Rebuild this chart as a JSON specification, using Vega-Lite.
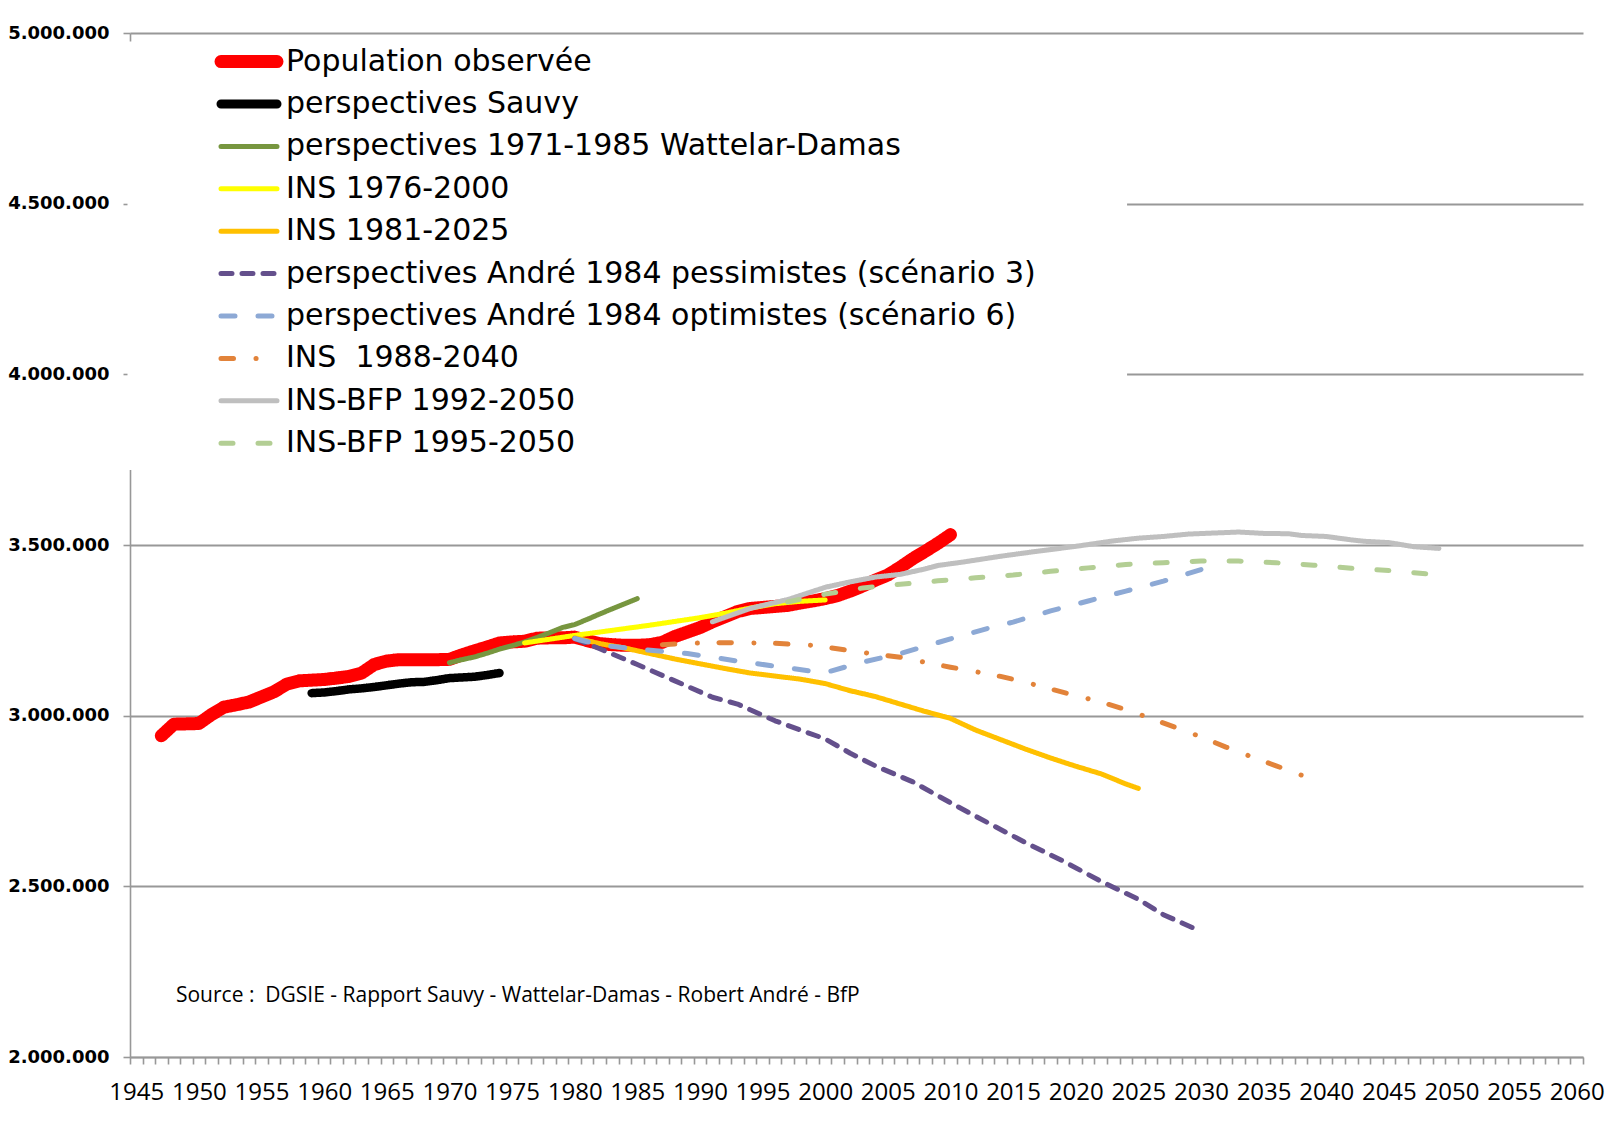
{
  "$schema": "https://vega.github.io/schema/vega-lite/v6.json",
  "autosize": {"type": "none"},
  "width": 1453,
  "height": 1024,
  "padding": {"left": 130, "top": 33, "right": 27, "bottom": 72},
  "background": "white",
  "config": {
    "view": {"stroke": null},
    "axis": {"domainColor": "#989898", "domainWidth": 1.6, "tickColor": "#989898", "tickWidth": 1.6, "gridColor": "#989898", "gridWidth": 1.8, "titlePadding": 0}
  },
  "layer": [
    {
      "data": {"values": [{}]},
      "mark": {"type": "rect", "fill": "white"},
      "encoding": {
        "x": {"datum": 1944.3, "type": "quantitative", "title": null, "scale": {"domain": [1944.5, 2060.5], "nice": false, "zero": false}},
        "x2": {"datum": 2024.1},
        "y": {"datum": 3720000, "type": "quantitative", "title": null, "scale": {"domain": [2000000, 5000000], "nice": false, "zero": false}},
        "y2": {"datum": 4975000}
      }
    },
    {
      "data": {"values": [
        {"s":"Population observée","year":1947,"pop":2941000},{"s":"Population observée","year":1948,"pop":2975000},{"s":"Population observée","year":1949,"pop":2976000},{"s":"Population observée","year":1950,"pop":2977000},{"s":"Population observée","year":1951,"pop":3003000},{"s":"Population observée","year":1952,"pop":3025000},{"s":"Population observée","year":1953,"pop":3032000},{"s":"Population observée","year":1954,"pop":3040000},{"s":"Population observée","year":1955,"pop":3055000},{"s":"Population observée","year":1956,"pop":3070000},{"s":"Population observée","year":1957,"pop":3092000},{"s":"Population observée","year":1958,"pop":3102000},{"s":"Population observée","year":1959,"pop":3104000},{"s":"Population observée","year":1960,"pop":3106000},{"s":"Population observée","year":1961,"pop":3110000},{"s":"Population observée","year":1962,"pop":3115000},{"s":"Population observée","year":1963,"pop":3125000},{"s":"Population observée","year":1964,"pop":3150000},{"s":"Population observée","year":1965,"pop":3160000},{"s":"Population observée","year":1966,"pop":3164000},{"s":"Population observée","year":1967,"pop":3164000},{"s":"Population observée","year":1968,"pop":3164000},{"s":"Population observée","year":1969,"pop":3164000},{"s":"Population observée","year":1970,"pop":3165000},{"s":"Population observée","year":1971,"pop":3178000},{"s":"Population observée","year":1972,"pop":3190000},{"s":"Population observée","year":1973,"pop":3201000},{"s":"Population observée","year":1974,"pop":3213000},{"s":"Population observée","year":1975,"pop":3216000},{"s":"Population observée","year":1976,"pop":3218000},{"s":"Population observée","year":1977,"pop":3227000},{"s":"Population observée","year":1978,"pop":3228000},{"s":"Population observée","year":1979,"pop":3228000},{"s":"Population observée","year":1980,"pop":3230000},{"s":"Population observée","year":1981,"pop":3220000},{"s":"Population observée","year":1982,"pop":3211000},{"s":"Population observée","year":1983,"pop":3208000},{"s":"Population observée","year":1984,"pop":3206000},{"s":"Population observée","year":1985,"pop":3206000},{"s":"Population observée","year":1986,"pop":3208000},{"s":"Population observée","year":1987,"pop":3215000},{"s":"Population observée","year":1988,"pop":3232000},{"s":"Population observée","year":1989,"pop":3245000},{"s":"Population observée","year":1990,"pop":3258000},{"s":"Population observée","year":1991,"pop":3275000},{"s":"Population observée","year":1992,"pop":3290000},{"s":"Population observée","year":1993,"pop":3305000},{"s":"Population observée","year":1994,"pop":3314000},{"s":"Population observée","year":1995,"pop":3317000},{"s":"Population observée","year":1996,"pop":3320000},{"s":"Population observée","year":1997,"pop":3323000},{"s":"Population observée","year":1998,"pop":3330000},{"s":"Population observée","year":1999,"pop":3336000},{"s":"Population observée","year":2000,"pop":3343000},{"s":"Population observée","year":2001,"pop":3352000},{"s":"Population observée","year":2002,"pop":3365000},{"s":"Population observée","year":2003,"pop":3380000},{"s":"Population observée","year":2004,"pop":3397000},{"s":"Population observée","year":2005,"pop":3412000},{"s":"Population observée","year":2006,"pop":3435000},{"s":"Population observée","year":2007,"pop":3460000},{"s":"Population observée","year":2008,"pop":3482000},{"s":"Population observée","year":2009,"pop":3505000},{"s":"Population observée","year":2010,"pop":3530000},
        {"s":"perspectives Sauvy","year":1959,"pop":3066000},{"s":"perspectives Sauvy","year":1960,"pop":3068000},{"s":"perspectives Sauvy","year":1961,"pop":3072000},{"s":"perspectives Sauvy","year":1962,"pop":3077000},{"s":"perspectives Sauvy","year":1963,"pop":3080000},{"s":"perspectives Sauvy","year":1964,"pop":3084000},{"s":"perspectives Sauvy","year":1965,"pop":3089000},{"s":"perspectives Sauvy","year":1966,"pop":3094000},{"s":"perspectives Sauvy","year":1967,"pop":3098000},{"s":"perspectives Sauvy","year":1968,"pop":3099000},{"s":"perspectives Sauvy","year":1969,"pop":3104000},{"s":"perspectives Sauvy","year":1970,"pop":3110000},{"s":"perspectives Sauvy","year":1971,"pop":3112000},{"s":"perspectives Sauvy","year":1972,"pop":3114000},{"s":"perspectives Sauvy","year":1973,"pop":3119000},{"s":"perspectives Sauvy","year":1974,"pop":3125000},
        {"s":"perspectives 1971-1985 Wattelar-Damas","year":1970,"pop":3155000},{"s":"perspectives 1971-1985 Wattelar-Damas","year":1971,"pop":3164000},{"s":"perspectives 1971-1985 Wattelar-Damas","year":1972,"pop":3172000},{"s":"perspectives 1971-1985 Wattelar-Damas","year":1973,"pop":3183000},{"s":"perspectives 1971-1985 Wattelar-Damas","year":1974,"pop":3195000},{"s":"perspectives 1971-1985 Wattelar-Damas","year":1975,"pop":3205000},{"s":"perspectives 1971-1985 Wattelar-Damas","year":1976,"pop":3216000},{"s":"perspectives 1971-1985 Wattelar-Damas","year":1977,"pop":3229000},{"s":"perspectives 1971-1985 Wattelar-Damas","year":1978,"pop":3243000},{"s":"perspectives 1971-1985 Wattelar-Damas","year":1979,"pop":3258000},{"s":"perspectives 1971-1985 Wattelar-Damas","year":1980,"pop":3267000},{"s":"perspectives 1971-1985 Wattelar-Damas","year":1981,"pop":3282000},{"s":"perspectives 1971-1985 Wattelar-Damas","year":1982,"pop":3298000},{"s":"perspectives 1971-1985 Wattelar-Damas","year":1983,"pop":3313000},{"s":"perspectives 1971-1985 Wattelar-Damas","year":1984,"pop":3328000},{"s":"perspectives 1971-1985 Wattelar-Damas","year":1985,"pop":3343000},
        {"s":"INS 1976-2000","year":1976,"pop":3213000},{"s":"INS 1976-2000","year":1978,"pop":3224000},{"s":"INS 1976-2000","year":1980,"pop":3235000},{"s":"INS 1976-2000","year":1982,"pop":3245000},{"s":"INS 1976-2000","year":1984,"pop":3255000},{"s":"INS 1976-2000","year":1986,"pop":3265000},{"s":"INS 1976-2000","year":1988,"pop":3276000},{"s":"INS 1976-2000","year":1990,"pop":3287000},{"s":"INS 1976-2000","year":1992,"pop":3300000},{"s":"INS 1976-2000","year":1994,"pop":3315000},{"s":"INS 1976-2000","year":1996,"pop":3328000},{"s":"INS 1976-2000","year":1998,"pop":3335000},{"s":"INS 1976-2000","year":2000,"pop":3339000},
        {"s":"INS 1981-2025","year":1980,"pop":3228000},{"s":"INS 1981-2025","year":1982,"pop":3211000},{"s":"INS 1981-2025","year":1984,"pop":3198000},{"s":"INS 1981-2025","year":1986,"pop":3182000},{"s":"INS 1981-2025","year":1988,"pop":3166000},{"s":"INS 1981-2025","year":1990,"pop":3152000},{"s":"INS 1981-2025","year":1992,"pop":3138000},{"s":"INS 1981-2025","year":1994,"pop":3125000},{"s":"INS 1981-2025","year":1996,"pop":3116000},{"s":"INS 1981-2025","year":1998,"pop":3107000},{"s":"INS 1981-2025","year":2000,"pop":3094000},{"s":"INS 1981-2025","year":2002,"pop":3073000},{"s":"INS 1981-2025","year":2004,"pop":3056000},{"s":"INS 1981-2025","year":2006,"pop":3034000},{"s":"INS 1981-2025","year":2008,"pop":3012000},{"s":"INS 1981-2025","year":2010,"pop":2992000},{"s":"INS 1981-2025","year":2012,"pop":2958000},{"s":"INS 1981-2025","year":2014,"pop":2930000},{"s":"INS 1981-2025","year":2016,"pop":2902000},{"s":"INS 1981-2025","year":2018,"pop":2876000},{"s":"INS 1981-2025","year":2020,"pop":2852000},{"s":"INS 1981-2025","year":2022,"pop":2830000},{"s":"INS 1981-2025","year":2024,"pop":2800000},{"s":"INS 1981-2025","year":2025,"pop":2787000},
        {"s":"perspectives André 1984 pessimistes (scénario 3)","year":1980,"pop":3226000},{"s":"perspectives André 1984 pessimistes (scénario 3)","year":1982,"pop":3196000},{"s":"perspectives André 1984 pessimistes (scénario 3)","year":1985,"pop":3150000},{"s":"perspectives André 1984 pessimistes (scénario 3)","year":1988,"pop":3102000},{"s":"perspectives André 1984 pessimistes (scénario 3)","year":1991,"pop":3054000},{"s":"perspectives André 1984 pessimistes (scénario 3)","year":1993,"pop":3034000},{"s":"perspectives André 1984 pessimistes (scénario 3)","year":1996,"pop":2985000},{"s":"perspectives André 1984 pessimistes (scénario 3)","year":1998,"pop":2958000},{"s":"perspectives André 1984 pessimistes (scénario 3)","year":2000,"pop":2932000},{"s":"perspectives André 1984 pessimistes (scénario 3)","year":2002,"pop":2890000},{"s":"perspectives André 1984 pessimistes (scénario 3)","year":2004,"pop":2853000},{"s":"perspectives André 1984 pessimistes (scénario 3)","year":2007,"pop":2806000},{"s":"perspectives André 1984 pessimistes (scénario 3)","year":2010,"pop":2745000},{"s":"perspectives André 1984 pessimistes (scénario 3)","year":2013,"pop":2686000},{"s":"perspectives André 1984 pessimistes (scénario 3)","year":2016,"pop":2628000},{"s":"perspectives André 1984 pessimistes (scénario 3)","year":2019,"pop":2574000},{"s":"perspectives André 1984 pessimistes (scénario 3)","year":2022,"pop":2515000},{"s":"perspectives André 1984 pessimistes (scénario 3)","year":2025,"pop":2462000},{"s":"perspectives André 1984 pessimistes (scénario 3)","year":2027,"pop":2417000},{"s":"perspectives André 1984 pessimistes (scénario 3)","year":2030,"pop":2368000},
        {"s":"perspectives André 1984 optimistes (scénario 6)","year":1980,"pop":3226000},{"s":"perspectives André 1984 optimistes (scénario 6)","year":1982,"pop":3207000},{"s":"perspectives André 1984 optimistes (scénario 6)","year":1985,"pop":3195000},{"s":"perspectives André 1984 optimistes (scénario 6)","year":1989,"pop":3182000},{"s":"perspectives André 1984 optimistes (scénario 6)","year":1993,"pop":3160000},{"s":"perspectives André 1984 optimistes (scénario 6)","year":1996,"pop":3145000},{"s":"perspectives André 1984 optimistes (scénario 6)","year":1999,"pop":3130000},{"s":"perspectives André 1984 optimistes (scénario 6)","year":2000,"pop":3126000},{"s":"perspectives André 1984 optimistes (scénario 6)","year":2003,"pop":3157000},{"s":"perspectives André 1984 optimistes (scénario 6)","year":2006,"pop":3182000},{"s":"perspectives André 1984 optimistes (scénario 6)","year":2010,"pop":3225000},{"s":"perspectives André 1984 optimistes (scénario 6)","year":2013,"pop":3256000},{"s":"perspectives André 1984 optimistes (scénario 6)","year":2015,"pop":3274000},{"s":"perspectives André 1984 optimistes (scénario 6)","year":2018,"pop":3307000},{"s":"perspectives André 1984 optimistes (scénario 6)","year":2021,"pop":3336000},{"s":"perspectives André 1984 optimistes (scénario 6)","year":2024,"pop":3365000},{"s":"perspectives André 1984 optimistes (scénario 6)","year":2027,"pop":3394000},{"s":"perspectives André 1984 optimistes (scénario 6)","year":2030,"pop":3428000},
        {"s":"INS  1988-2040","year":1987,"pop":3208000},{"s":"INS  1988-2040","year":1990,"pop":3213000},{"s":"INS  1988-2040","year":1993,"pop":3214000},{"s":"INS  1988-2040","year":1996,"pop":3212000},{"s":"INS  1988-2040","year":1999,"pop":3206000},{"s":"INS  1988-2040","year":2002,"pop":3191000},{"s":"INS  1988-2040","year":2004,"pop":3180000},{"s":"INS  1988-2040","year":2006,"pop":3171000},{"s":"INS  1988-2040","year":2008,"pop":3156000},{"s":"INS  1988-2040","year":2010,"pop":3142000},{"s":"INS  1988-2040","year":2012,"pop":3129000},{"s":"INS  1988-2040","year":2014,"pop":3115000},{"s":"INS  1988-2040","year":2016,"pop":3098000},{"s":"INS  1988-2040","year":2018,"pop":3078000},{"s":"INS  1988-2040","year":2020,"pop":3059000},{"s":"INS  1988-2040","year":2022,"pop":3040000},{"s":"INS  1988-2040","year":2024,"pop":3018000},{"s":"INS  1988-2040","year":2026,"pop":2992000},{"s":"INS  1988-2040","year":2028,"pop":2965000},{"s":"INS  1988-2040","year":2030,"pop":2938000},{"s":"INS  1988-2040","year":2032,"pop":2908000},{"s":"INS  1988-2040","year":2034,"pop":2880000},{"s":"INS  1988-2040","year":2036,"pop":2853000},{"s":"INS  1988-2040","year":2038,"pop":2826000},
        {"s":"INS-BFP 1992-2050","year":1991,"pop":3275000},{"s":"INS-BFP 1992-2050","year":1994,"pop":3314000},{"s":"INS-BFP 1992-2050","year":1997,"pop":3340000},{"s":"INS-BFP 1992-2050","year":2000,"pop":3376000},{"s":"INS-BFP 1992-2050","year":2002,"pop":3392000},{"s":"INS-BFP 1992-2050","year":2004,"pop":3406000},{"s":"INS-BFP 1992-2050","year":2006,"pop":3414000},{"s":"INS-BFP 1992-2050","year":2008,"pop":3430000},{"s":"INS-BFP 1992-2050","year":2009,"pop":3440000},{"s":"INS-BFP 1992-2050","year":2011,"pop":3450000},{"s":"INS-BFP 1992-2050","year":2014,"pop":3467000},{"s":"INS-BFP 1992-2050","year":2017,"pop":3482000},{"s":"INS-BFP 1992-2050","year":2020,"pop":3496000},{"s":"INS-BFP 1992-2050","year":2023,"pop":3512000},{"s":"INS-BFP 1992-2050","year":2025,"pop":3520000},{"s":"INS-BFP 1992-2050","year":2027,"pop":3525000},{"s":"INS-BFP 1992-2050","year":2029,"pop":3532000},{"s":"INS-BFP 1992-2050","year":2031,"pop":3535000},{"s":"INS-BFP 1992-2050","year":2033,"pop":3538000},{"s":"INS-BFP 1992-2050","year":2035,"pop":3534000},{"s":"INS-BFP 1992-2050","year":2037,"pop":3533000},{"s":"INS-BFP 1992-2050","year":2038,"pop":3528000},{"s":"INS-BFP 1992-2050","year":2040,"pop":3525000},{"s":"INS-BFP 1992-2050","year":2042,"pop":3515000},{"s":"INS-BFP 1992-2050","year":2043,"pop":3511000},{"s":"INS-BFP 1992-2050","year":2045,"pop":3507000},{"s":"INS-BFP 1992-2050","year":2047,"pop":3495000},{"s":"INS-BFP 1992-2050","year":2049,"pop":3490000},
        {"s":"INS-BFP 1995-2050","year":1997,"pop":3333000},{"s":"INS-BFP 1995-2050","year":2000,"pop":3356000},{"s":"INS-BFP 1995-2050","year":2003,"pop":3374000},{"s":"INS-BFP 1995-2050","year":2006,"pop":3385000},{"s":"INS-BFP 1995-2050","year":2009,"pop":3395000},{"s":"INS-BFP 1995-2050","year":2012,"pop":3404000},{"s":"INS-BFP 1995-2050","year":2015,"pop":3412000},{"s":"INS-BFP 1995-2050","year":2018,"pop":3423000},{"s":"INS-BFP 1995-2050","year":2021,"pop":3433000},{"s":"INS-BFP 1995-2050","year":2024,"pop":3443000},{"s":"INS-BFP 1995-2050","year":2027,"pop":3448000},{"s":"INS-BFP 1995-2050","year":2030,"pop":3453000},{"s":"INS-BFP 1995-2050","year":2033,"pop":3453000},{"s":"INS-BFP 1995-2050","year":2036,"pop":3448000},{"s":"INS-BFP 1995-2050","year":2039,"pop":3441000},{"s":"INS-BFP 1995-2050","year":2042,"pop":3432000},{"s":"INS-BFP 1995-2050","year":2045,"pop":3425000},{"s":"INS-BFP 1995-2050","year":2047,"pop":3419000},{"s":"INS-BFP 1995-2050","year":2049,"pop":3412000}
      ]},
      "mark": {"type": "line", "strokeCap": "round", "strokeJoin": "round"},
      "encoding": {
        "x": {
          "field": "year", "type": "quantitative", "title": null,
          "scale": {"domain": [1944.5, 2060.5], "nice": false, "zero": false},
          "axis": {
            "values": [1944.5,1945.5,1946.5,1947.5,1948.5,1949.5,1950.5,1951.5,1952.5,1953.5,1954.5,1955.5,1956.5,1957.5,1958.5,1959.5,1960.5,1961.5,1962.5,1963.5,1964.5,1965.5,1966.5,1967.5,1968.5,1969.5,1970.5,1971.5,1972.5,1973.5,1974.5,1975.5,1976.5,1977.5,1978.5,1979.5,1980.5,1981.5,1982.5,1983.5,1984.5,1985.5,1986.5,1987.5,1988.5,1989.5,1990.5,1991.5,1992.5,1993.5,1994.5,1995.5,1996.5,1997.5,1998.5,1999.5,2000.5,2001.5,2002.5,2003.5,2004.5,2005.5,2006.5,2007.5,2008.5,2009.5,2010.5,2011.5,2012.5,2013.5,2014.5,2015.5,2016.5,2017.5,2018.5,2019.5,2020.5,2021.5,2022.5,2023.5,2024.5,2025.5,2026.5,2027.5,2028.5,2029.5,2030.5,2031.5,2032.5,2033.5,2034.5,2035.5,2036.5,2037.5,2038.5,2039.5,2040.5,2041.5,2042.5,2043.5,2044.5,2045.5,2046.5,2047.5,2048.5,2049.5,2050.5,2051.5,2052.5,2053.5,2054.5,2055.5,2056.5,2057.5,2058.5,2059.5,2060.5],
            "tickCount": 500,
            "labelExpr": "(datum.value + 0.5) % 5 === 0 ? toString(datum.value + 0.5) : ''",
            "labelOffset": 6.26,
            "labelFont": "Open Sans", "labelFontSize": 24, "labelColor": "black",
            "tickSize": 7, "labelPadding": 16, "grid": false,
            "labelOverlap": false, "labelFlush": false, "labelBound": false
          }
        },
        "y": {
          "field": "pop", "type": "quantitative", "title": null,
          "scale": {"domain": [2000000, 5000000], "nice": false, "zero": false},
          "axis": {
            "values": [2000000, 2500000, 3000000, 3500000, 4000000, 4500000, 5000000],
            "labelExpr": "replace(replace(format(datum.value, ','), ',', '.'), ',', '.')",
            "labelFont": "DejaVu Sans", "labelFontWeight": "bold", "labelFontSize": 18, "labelColor": "black",
            "tickSize": 7, "labelPadding": 14, "grid": true
          }
        },
        "color": {
          "field": "s", "type": "nominal",
          "scale": {
            "domain": ["Population observée", "perspectives Sauvy", "perspectives 1971-1985 Wattelar-Damas", "INS 1976-2000", "INS 1981-2025", "perspectives André 1984 pessimistes (scénario 3)", "perspectives André 1984 optimistes (scénario 6)", "INS  1988-2040", "INS-BFP 1992-2050", "INS-BFP 1995-2050"],
            "range": ["#FF0000", "#000000", "#77963F", "#FFFF00", "#FFC000", "#64508C", "#8DA9D5", "#E2833A", "#BFBFBF", "#B3CE94"]
          },
          "legend": {
            "title": null, "orient": "none", "legendX": 104, "legendY": 13.6, "padding": 0,
            "symbolType": "M-5.6,0H5.6", "symbolSize": 100,
            "labelFont": "DejaVu Sans", "labelFontSize": 30, "labelColor": "black", "labelOffset": 22, "labelLimit": 2000,
            "labelExpr": "replace(datum.label, '  ', '\u00a0 ')",
            "rowPadding": 12.4,
            "encode": {"symbols": {"update": {
              "strokeWidth": {"signal": "datum.value === 'Population observée' ? 13 : datum.value === 'perspectives Sauvy' ? 9 : 5"},
              "strokeCap": {"value": "round"},
              "strokeJoin": {"value": "round"}
            }}}
          }
        },
        "strokeDash": {
          "field": "s", "type": "nominal",
          "scale": {
            "domain": ["Population observée", "perspectives Sauvy", "perspectives 1971-1985 Wattelar-Damas", "INS 1976-2000", "INS 1981-2025", "perspectives André 1984 pessimistes (scénario 3)", "perspectives André 1984 optimistes (scénario 6)", "INS  1988-2040", "INS-BFP 1992-2050", "INS-BFP 1995-2050"],
            "range": [[1, 0], [1, 0], [1, 0], [1, 0], [1, 0], [11, 10], [14, 23], [12.5, 22.5, 0.1, 21.5], [1, 0], [12, 25]]
          },
          "legend": {
            "title": null, "orient": "none", "legendX": 104, "legendY": 13.6, "padding": 0,
            "symbolType": "M-5.6,0H5.6", "symbolSize": 100,
            "labelFont": "DejaVu Sans", "labelFontSize": 30, "labelColor": "black", "labelOffset": 22, "labelLimit": 2000,
            "labelExpr": "replace(datum.label, '  ', '\u00a0 ')",
            "rowPadding": 12.4,
            "encode": {"symbols": {"update": {
              "strokeWidth": {"signal": "datum.value === 'Population observée' ? 13 : datum.value === 'perspectives Sauvy' ? 9 : 5"},
              "strokeCap": {"value": "round"},
              "strokeJoin": {"value": "round"}
            }}}
          }
        },
        "strokeWidth": {
          "condition": [
            {"test": "datum.s === 'Population observée'", "value": 13},
            {"test": "datum.s === 'perspectives Sauvy'", "value": 8.5}
          ],
          "value": 5
        }
      }
    },
    {
      "data": {"values": [{}]},
      "mark": {"type": "text", "align": "left", "baseline": "middle", "font": "Open Sans", "fontSize": 21, "color": "black"},
      "encoding": {
        "x": {"datum": 1948.17, "type": "quantitative", "title": null, "scale": {"domain": [1944.5, 2060.5], "nice": false, "zero": false}},
        "y": {"datum": 2178700, "type": "quantitative", "title": null, "scale": {"domain": [2000000, 5000000], "nice": false, "zero": false}},
        "text": {"value": "Source :\u00a0 DGSIE - Rapport Sauvy - Wattelar-Damas - Robert André - BfP"}
      }
    }
  ]
}
